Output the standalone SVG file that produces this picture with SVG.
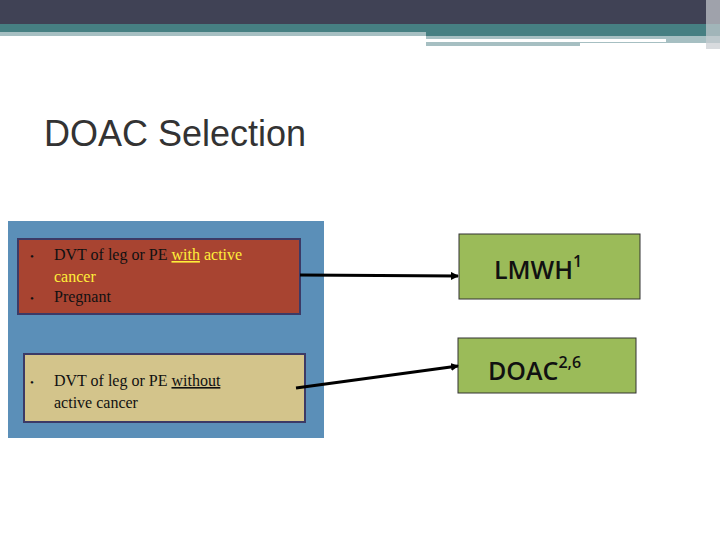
<svg xmlns="http://www.w3.org/2000/svg" width="720" height="540" viewBox="0 0 720 540">
<style>
.t{font-family:"Liberation Serif",serif;font-size:16px;fill:#111}
.y{fill:#ffef3a}
.g{font-family:"Open Sans","DejaVu Sans",sans-serif;font-size:25px;font-weight:600;fill:#111}
.c{stroke:#000;stroke-width:3;fill:none;marker-end:url(#a)}
</style>
<defs><marker id="a" markerWidth="8" markerHeight="8" refX="7" refY="4" orient="auto" markerUnits="userSpaceOnUse"><path d="M0,0L8,4L0,8z" fill="#000"/></marker></defs>
<rect width="720" height="540" fill="#fff"/>
<rect width="720" height="24" fill="#404255"/>
<rect y="24" width="720" height="12" fill="#467f82"/>
<rect y="32" width="426" height="4" fill="#a6bfc2"/>
<rect x="426" y="36" width="294" height="10" fill="#a6bfc2"/>
<rect x="426" y="39" width="240" height="3" fill="#fff"/>
<rect x="580" y="43" width="140" height="6" fill="#fff"/>
<rect x="706" y="0" width="14" height="49" fill="#c8ccd0" opacity="0.7"/>
<text x="44" y="146" font-family="Liberation Sans,sans-serif" font-size="36" fill="#333">DOAC Selection</text>
<rect x="8" y="221" width="316" height="217" fill="#5b8fb8"/>
<g id="n1"><rect x="18" y="239" width="282" height="75" fill="#a84431" stroke="#3c3a66" stroke-width="2"/>
<text class="t"><tspan x="30" y="260" font-size="11">•</tspan><tspan x="54" y="260">DVT of leg or PE </tspan><tspan class="y" text-decoration="underline">with</tspan><tspan class="y"> active</tspan><tspan class="y" x="54" y="282">cancer</tspan><tspan x="30" y="302" font-size="11">•</tspan><tspan x="54" y="302">Pregnant</tspan></text></g>
<g id="n2"><rect x="24" y="354" width="281" height="68" fill="#d3c48b" stroke="#3c3a66" stroke-width="2"/>
<text class="t"><tspan x="30" y="386" font-size="11">•</tspan><tspan x="54" y="386">DVT of leg or PE </tspan><tspan text-decoration="underline">without</tspan><tspan x="54" y="408">active cancer</tspan></text></g>
<g id="n3"><rect x="459" y="234" width="181" height="65" fill="#9bbb59" stroke="#333" stroke-width="1"/>
<text class="g" x="494" y="279">LMWH<tspan font-size="16" dy="-12">1</tspan></text></g>
<g id="n4"><rect x="458" y="338" width="178" height="55" fill="#9bbb59" stroke="#333" stroke-width="1"/>
<text class="g" x="488" y="380">DOAC<tspan font-size="16" dy="-12">2,6</tspan></text></g>
<g id="connectors"><path class="c" d="M300,275L458,276"/><path class="c" d="M296,388L458,366"/></g>
</svg>
